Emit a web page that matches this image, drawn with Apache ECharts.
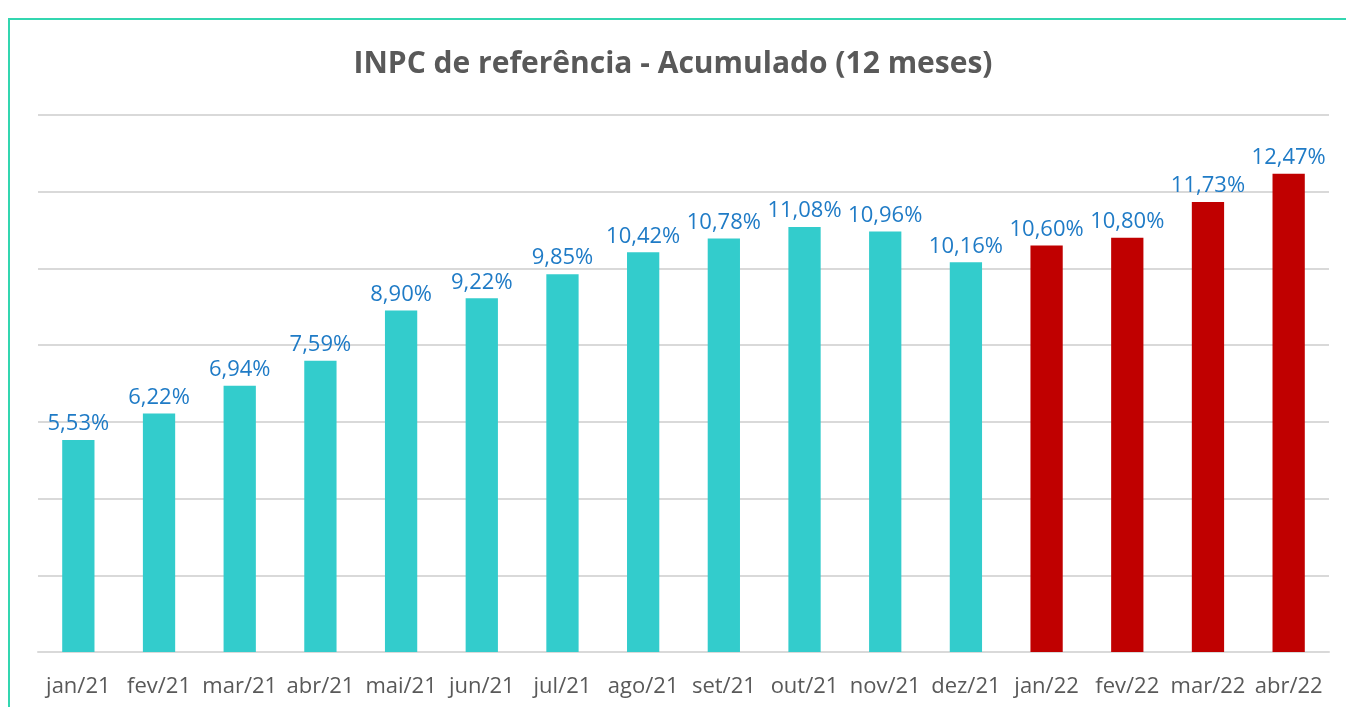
<!DOCTYPE html>
<html>
<head>
<meta charset="utf-8">
<title>INPC de referência - Acumulado (12 meses)</title>
<script src="https://cdn.jsdelivr.net/npm/echarts@6/dist/echarts.min.js"></script>
<style>
  html, body { margin: 0; padding: 0; background: #fff; }
  .com-container { position: relative; width: 1346px; height: 707px; overflow: hidden; }
  .frame {
    position: absolute; left: 8px; top: 18px; right: -10px; bottom: -10px;
    border-left: 2px solid #33d6b0; border-top: 2px solid #33d6b0;
  }
  .com-chart { position: absolute; left: 0; top: 0; width: 1346px; height: 707px; }
</style>
</head>
<body>
<div class="com-container">
  <div class="frame"></div>
  <div class="com-chart" id="main"></div>
</div>
<script>
// meses (jan/21 .. abr/22)
const categories = ['jan/21', 'fev/21', 'mar/21', 'abr/21', 'mai/21', 'jun/21', 'jul/21', 'ago/21',
  'set/21', 'out/21', 'nov/21', 'dez/21', 'jan/22', 'fev/22', 'mar/22', 'abr/22']
// INPC acumulado 12 meses (%)
const values = [5.53, 6.22, 6.94, 7.59, 8.90, 9.22, 9.85, 10.42, 10.78, 11.08, 10.96, 10.16, 10.60, 10.80, 11.73, 12.47]
// ano de cada barra -> cor
const years = [2021, 2021, 2021, 2021, 2021, 2021, 2021, 2021, 2021, 2021, 2021, 2021, 2022, 2022, 2022, 2022]

const font = '"Open Sans", "Noto Sans", sans-serif'
const chartInstance = echarts.init(document.getElementById('main'))
const option = {
  animation: false,
  title: {
    text: 'INPC de referência - Acumulado (12 meses)',
    left: 'center',
    top: 44,
    textStyle: {
      fontFamily: font,
      fontSize: 30,
      fontWeight: 'bold',
      color: '#595959'
    }
  },
  grid: {
    left: 38,
    right: 17,
    top: 115,
    bottom: 55
  },
  xAxis: {
    type: 'category',
    data: categories,
    axisLine: { lineStyle: { color: '#d9d9d9', width: 2 } },
    axisTick: { show: false },
    axisLabel: {
      color: '#595959',
      fontFamily: font,
      fontSize: 22,
      margin: 24,
      interval: 0
    }
  },
  yAxis: {
    type: 'value',
    min: 0,
    max: 14,
    interval: 2,
    axisLabel: { show: false },
    axisLine: { show: false },
    axisTick: { show: false },
    splitLine: { lineStyle: { color: '#d9d9d9', width: 2 } }
  },
  series: [
    {
      type: 'bar',
      data: values,
      barWidth: '40%',
      itemStyle: {
        color: p => years[p.dataIndex] === 2022 ? '#c00000' : '#33cccc'
      },
      label: {
        show: true,
        position: 'top',
        distance: 5,
        color: '#1f7bc6',
        fontFamily: font,
        fontSize: 22,
        formatter: p => p.value.toFixed(2).replace('.', ',') + '%'
      }
    }
  ]
}
chartInstance.setOption(option)
</script>
</body>
</html>
